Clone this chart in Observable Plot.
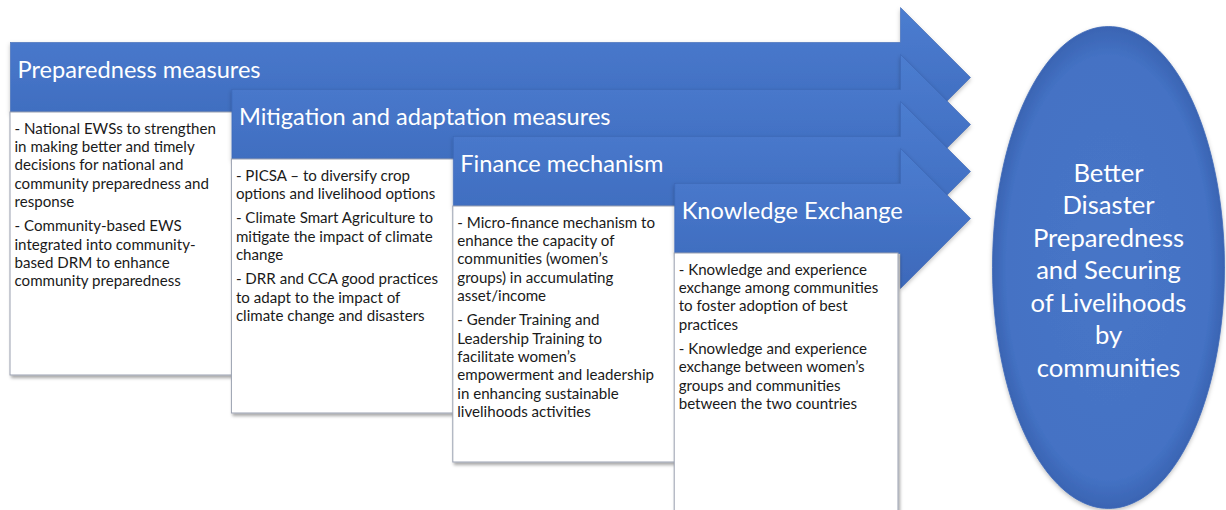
<!DOCTYPE html>
<html><head><meta charset="utf-8">
<script src="https://cdn.jsdelivr.net/npm/d3@7"></script>
<script src="https://cdn.jsdelivr.net/npm/@observablehq/plot@0.6"></script>
<style>body{margin:0;background:#fff} #chart svg{display:block}</style>
</head><body><div id="chart"></div>
<script>
// ---- content ----
const stages = ["Preparedness measures", "Mitigation and adaptation measures", "Finance mechanism", "Knowledge Exchange"];
const bulletsPreparedness = [
  ["- National EWSs to strengthen", "in making better and timely", "decisions for national and", "community preparedness and", "response"],
  ["- Community-based EWS", "integrated into community-", "based DRM to enhance", "community preparedness"]
];
const bulletsMitigation = [
  ["- PICSA \u2013 to diversify crop", "options and livelihood options"],
  ["- Climate Smart Agriculture to", "mitigate the impact of climate", "change"],
  ["- DRR and CCA good practices", "to adapt to the impact of", "climate change and disasters"]
];
const bulletsFinance = [
  ["- Micro-finance mechanism to", "enhance the capacity of", "communities (women\u2019s", "groups) in accumulating", "asset/income"],
  ["- Gender Training and", "Leadership Training to", "facilitate women\u2019s", "empowerment and leadership", "in enhancing sustainable", "livelihoods activities"]
];
const bulletsKnowledge = [
  ["- Knowledge and experience", "exchange among communities", "to foster adoption of best", "practices"],
  ["- Knowledge and experience", "exchange between women\u2019s", "groups and communities", "between the two countries"]
];
const bullets = [bulletsPreparedness, bulletsMitigation, bulletsFinance, bulletsKnowledge];
const outcome = ["Better", "Disaster", "Preparedness", "and Securing", "of Livelihoods", "by", "communities"];

// ---- layout ----
const W = 1226, H = 510;
const stageX = i => 10 + i * 221.4;
const stageCY = i => 77 + i * 47;
const bodyHalf = 35, headHalf = 70, headX = 900, tipX = 970;
const boxBottom = [375, 413, 462, 560];
const boxRight = i => i < stages.length - 1 ? stageX(i + 1) + 2 : 898;
const lineH = 18.3, paraGap = 6, textTop = 16.5;
const ell = {cx: 1108, cy: 267, rx: 116, ry: 241};
const FONT = "Lato, 'Open Sans', sans-serif";

const arrowPts = stages.flatMap((s, i) => {
  const x0 = stageX(i), cy = stageCY(i);
  return [[x0, cy - bodyHalf], [headX, cy - bodyHalf], [headX, cy - headHalf], [tipX, cy],
          [headX, cy + headHalf], [headX, cy + bodyHalf], [x0, cy + bodyHalf], [x0, cy - bodyHalf]]
    .map(([x, y]) => ({i, x, y}));
});
const boxes = stages.map((s, i) => ({i, x1: stageX(i), x2: boxRight(i), y1: stageCY(i) + bodyHalf, y2: boxBottom[i]}));
const headers = stages.map((s, i) => ({i, text: s, x: stageX(i) + 7, y: stageCY(i) - 7}));
const lines = bullets.flatMap((paras, i) => {
  let y = stageCY(i) + bodyHalf + textTop;
  const out = [];
  paras.forEach((p, pi) => {
    if (pi > 0) y += paraGap;
    p.forEach(t => { out.push({i, text: t, x: stageX(i) + 4, y}); y += lineH; });
  });
  return out;
});
const ellipsePts = d3.range(0, 361, 2).map(a => {
  const t = a * Math.PI / 180;
  return {x: ell.cx + ell.rx * Math.cos(t), y: ell.cy + ell.ry * Math.sin(t)};
});
const outcomeLines = outcome.map((t, k) => ({text: t, x: ell.cx, y: 173 + k * 32.5}));

const marks = stages.flatMap((s, i) => [
  Plot.line(arrowPts.filter(d => d.i === i), {x: "x", y: "y", fill: "url(#arrowGrad)", stroke: "#3a66b6", strokeWidth: 0.6}),
  Plot.rect([boxes[i]], {x1: "x1", x2: "x2", y1: "y1", y2: "y2", fill: "white", stroke: "#9aa0b0", strokeWidth: 1}),
  Plot.text([headers[i]], {x: "x", y: "y", text: "text", textAnchor: "start", lineAnchor: "middle", fill: "white", fontSize: 23.6, fontFamily: FONT}),
  Plot.text(lines.filter(d => d.i === i), {x: "x", y: "y", text: "text", textAnchor: "start", lineAnchor: "middle", fill: "#1a1a1a", fontSize: 15.1, fontFamily: FONT})
]);
marks.push(
  Plot.line(ellipsePts, {x: "x", y: "y", fill: "url(#ellGrad)", stroke: "#3f69b8", strokeWidth: 0.8}),
  Plot.text(outcomeLines, {x: "x", y: "y", text: "text", textAnchor: "middle", lineAnchor: "middle", fill: "white", fontSize: 25.6, fontFamily: FONT})
);

const svg = Plot.plot({
  width: W, height: H, margin: 0,
  x: {domain: [0, W], range: [0, W], axis: null},
  y: {domain: [0, H], range: [0, H], axis: null},
  style: {background: "white"},
  marks
});

const defs = d3.select(svg).insert("defs", ":first-child");
const ag = defs.append("linearGradient").attr("id", "arrowGrad").attr("x1", 0).attr("y1", 0).attr("x2", 0).attr("y2", 1);
ag.append("stop").attr("offset", "0%").attr("stop-color", "#4c7dd0");
ag.append("stop").attr("offset", "50%").attr("stop-color", "#4473c6");
ag.append("stop").attr("offset", "100%").attr("stop-color", "#3d69ba");
const eg = defs.append("radialGradient").attr("id", "ellGrad").attr("cx", 0.5).attr("cy", 0.5).attr("r", 0.5);
eg.append("stop").attr("offset", "0%").attr("stop-color", "#4775c7");
eg.append("stop").attr("offset", "88%").attr("stop-color", "#4472c4");
eg.append("stop").attr("offset", "100%").attr("stop-color", "#3a64b3");
const f = defs.append("filter").attr("id", "shadow").attr("x", "-5%").attr("y", "-5%").attr("width", "115%").attr("height", "115%");
f.append("feDropShadow").attr("dx", 1.5).attr("dy", 2.5).attr("stdDeviation", 1.5).attr("flood-color", "#000").attr("flood-opacity", 0.35);
const f2 = defs.append("filter").attr("id", "softShadow").attr("x", "-5%").attr("y", "-5%").attr("width", "115%").attr("height", "115%");
f2.append("feDropShadow").attr("dx", 0).attr("dy", 2).attr("stdDeviation", 2).attr("flood-color", "#000").attr("flood-opacity", 0.25);
d3.select(svg).selectAll('g[aria-label="rect"]').attr("filter", "url(#shadow)");
d3.select(svg).selectAll('g[aria-label="line"]').attr("filter", "url(#softShadow)");

document.getElementById("chart").append(svg);
</script>
</body></html>
